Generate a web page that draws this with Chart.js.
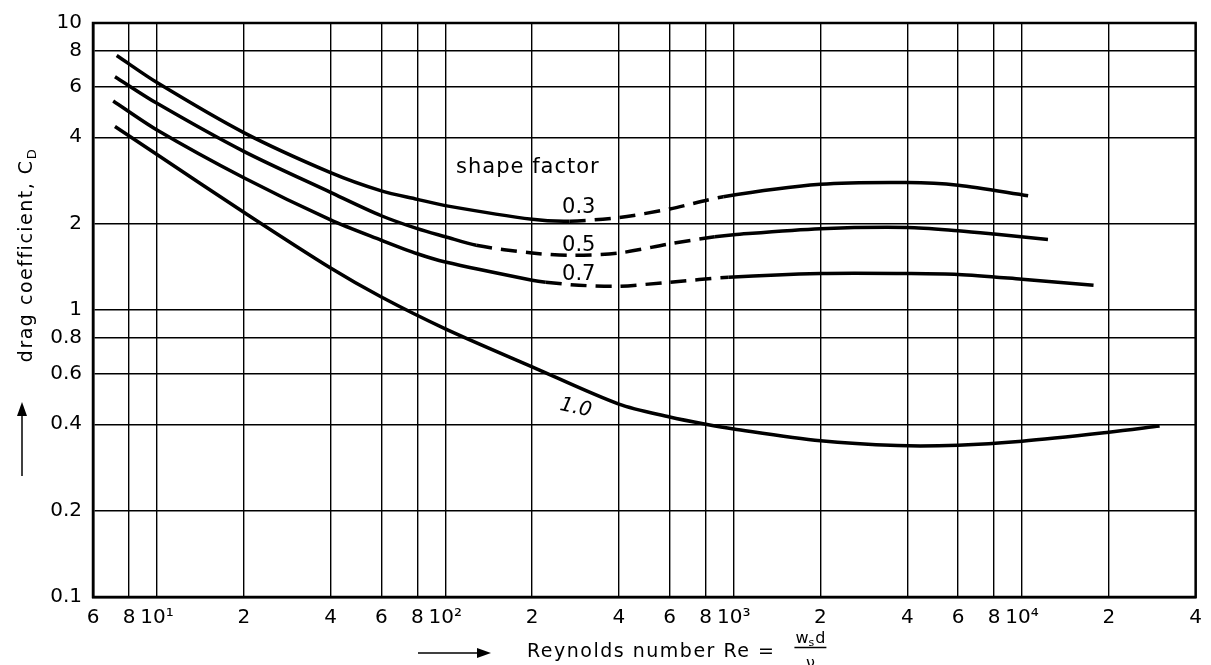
<!DOCTYPE html>
<html>
<head>
<meta charset="utf-8">
<title>Drag coefficient vs Reynolds number</title>
<script src="https://cdn.jsdelivr.net/npm/chart.js@4.4.1/dist/chart.umd.min.js"></script>
<style>
  html, body { margin: 0; padding: 0; background: #fff; }
  #wrap { width: 1211px; height: 665px; }
</style>
</head>
<body>
<div id="wrap"><canvas id="chart" width="1211" height="665"></canvas></div>
<script>
// readings: Reynolds number and drag coefficient per shape factor
const re03 = [7.25, 10, 20, 40, 60, 80, 100, 200, 270, 400, 600, 920, 2000, 4000, 6000, 10500];
const cd03 = [7.7, 6.2, 4.15, 3.01, 2.6, 2.43, 2.31, 2.07, 2.04, 2.1, 2.25, 2.48, 2.74, 2.78, 2.72, 2.5];

const re05 = [7.15, 10, 20, 40, 60, 80, 100, 128, 200, 270, 400, 600, 860, 1000, 2000, 4000, 6000, 8000, 12300];
const cd05 = [6.5, 5.25, 3.57, 2.57, 2.13, 1.92, 1.8, 1.68, 1.58, 1.55, 1.58, 1.7, 1.8, 1.83, 1.92, 1.94, 1.89, 1.84, 1.76];

const re07 = [7.05, 10, 20, 40, 60, 80, 100, 200, 223, 290, 400, 600, 960, 2000, 4000, 6000, 10000, 17700];
const cd07 = [5.35, 4.24, 2.89, 2.06, 1.75, 1.57, 1.47, 1.27, 1.25, 1.22, 1.21, 1.25, 1.3, 1.34, 1.34, 1.33, 1.28, 1.22];

const re10 = [7.15, 10, 20, 40, 60, 100, 200, 400, 600, 800, 1000, 2000, 3700, 6000, 10000, 20000, 30000];
const cd10 = [4.36, 3.48, 2.19, 1.4, 1.11, 0.86, 0.634, 0.47, 0.424, 0.4, 0.385, 0.35, 0.337, 0.338, 0.349, 0.375, 0.394];

// Re ranges where the curves are drawn dashed
const dash03 = [270, 920];
const dash05 = [128, 860];
const dash07 = [223, 960];

const xTicks = [6, 8, 10, 20, 40, 60, 80, 100, 200, 400, 600, 800, 1000, 2000, 4000, 6000, 8000, 10000, 20000, 40000];
const xLabels = ['6', '8', '10\u00B9', '2', '4', '6', '8', '10\u00B2', '2', '4', '6', '8', '10\u00B3', '2', '4', '6', '8', '10\u2074', '2', '4'];
const yTicks = [0.1, 0.2, 0.4, 0.6, 0.8, 1, 2, 4, 6, 8, 10];
const yLabels = ['0.1', '0.2', '0.4', '0.6', '0.8', '1', '2', '4', '6', '8', '10'];

const FONT = '"DejaVu Sans", "Liberation Sans", sans-serif';

// text placed inside the plot (in data units)
const notes = [
    { text: 'shape factor', re: 109, cd: 3.01, size: 21, spacing: 1 },
    { text: '0.3', re: 254, cd: 2.17, size: 21, spacing: 0 },
    { text: '0.5', re: 254, cd: 1.6, size: 21, spacing: 0 },
    { text: '0.7', re: 254, cd: 1.27, size: 21, spacing: 0 },
    { text: '1.0', re: 248, cd: 0.449, size: 20, spacing: 0, italic: true, angle: 12 }
];

const dashedIn = (range) => (ctx) =>
    (ctx.p0.parsed.x >= range[0] && ctx.p1.parsed.x <= range[1]) ? [16, 9] : undefined;

const makeSet = (label, re, cd, range) => ({
    label,
    data: re.map((x, i) => ({ x, y: cd[i] })),
    borderColor: '#000',
    borderWidth: 3.5,
    borderCapStyle: 'butt',
    pointRadius: 0,
    fill: false,
    tension: 0.3,
    segment: range ? { borderDash: dashedIn(range) } : {}
});

const arrow = (ctx, x1, y1, x2, y2) => {
    const ang = Math.atan2(y2 - y1, x2 - x1);
    ctx.beginPath();
    ctx.moveTo(x1, y1);
    ctx.lineTo(x2 - 10 * Math.cos(ang), y2 - 10 * Math.sin(ang));
    ctx.stroke();
    ctx.beginPath();
    ctx.moveTo(x2, y2);
    ctx.lineTo(x2 - 14 * Math.cos(ang) + 5 * Math.sin(ang), y2 - 14 * Math.sin(ang) - 5 * Math.cos(ang));
    ctx.lineTo(x2 - 14 * Math.cos(ang) - 5 * Math.sin(ang), y2 - 14 * Math.sin(ang) + 5 * Math.cos(ang));
    ctx.closePath();
    ctx.fill();
};

const decorations = {
    id: 'decorations',
    afterDraw(chart) {
        const { ctx, chartArea: a, scales: { x, y } } = chart;
        ctx.save();
        ctx.fillStyle = '#000';
        ctx.strokeStyle = '#000';

        // frame
        ctx.lineWidth = 2.5;
        ctx.strokeRect(a.left, a.top, a.right - a.left, a.bottom - a.top);

        // curve labels
        notes.forEach(n => {
            ctx.save();
            ctx.translate(x.getPixelForValue(n.re), y.getPixelForValue(n.cd));
            if (n.angle) ctx.rotate(n.angle * Math.PI / 180);
            ctx.font = (n.italic ? 'italic ' : '') + n.size + 'px ' + FONT;
            ctx.letterSpacing = n.spacing + 'px';
            ctx.textAlign = 'left';
            ctx.textBaseline = 'alphabetic';
            ctx.fillText(n.text, 0, 0);
            ctx.restore();
        });

        // y axis title
        ctx.save();
        ctx.translate(24, 255);
        ctx.rotate(-Math.PI / 2);
        ctx.letterSpacing = '1.5px';
        ctx.font = '19px ' + FONT;
        const yMain = 'drag coefficient, C';
        const w1 = ctx.measureText(yMain).width;
        ctx.font = '13px ' + FONT;
        const w2 = ctx.measureText('D').width;
        const start = -(w1 + w2) / 2;
        ctx.textBaseline = 'alphabetic';
        ctx.font = '19px ' + FONT;
        ctx.fillText(yMain, start, 8);
        ctx.font = '13px ' + FONT;
        ctx.fillText('D', start + w1, 12);
        ctx.restore();

        ctx.lineWidth = 1.5;
        arrow(ctx, 22, 476, 22, 402);

        // x axis title
        arrow(ctx, 418, 653, 491, 653);
        ctx.save();
        ctx.letterSpacing = '1.5px';
        ctx.font = '19px ' + FONT;
        ctx.textBaseline = 'alphabetic';
        const xMain = 'Reynolds number Re =';
        ctx.fillText(xMain, 527, 657);
        const fx = 527 + ctx.measureText(xMain).width + 20;
        ctx.letterSpacing = '0px';
        ctx.font = '16px ' + FONT;
        ctx.fillText('w', fx, 643);
        const ww = ctx.measureText('w').width;
        ctx.font = '11px ' + FONT;
        ctx.fillText('s', fx + ww, 646);
        const sw = ctx.measureText('s').width;
        ctx.font = '16px ' + FONT;
        ctx.fillText('d', fx + ww + sw + 1, 643);
        const dw = ctx.measureText('d').width;
        const fw = ww + sw + 1 + dw;
        ctx.lineWidth = 1.5;
        ctx.beginPath();
        ctx.moveTo(fx - 1, 647.5);
        ctx.lineTo(fx + fw + 1, 647.5);
        ctx.stroke();
        ctx.textAlign = 'center';
        ctx.fillText('\u03BD', fx + fw / 2, 668);
        ctx.restore();

        ctx.restore();
    }
};

new Chart(document.getElementById('chart'), {
    type: 'line',
    data: {
        datasets: [
            makeSet('0.3', re03, cd03, dash03),
            makeSet('0.5', re05, cd05, dash05),
            makeSet('0.7', re07, cd07, dash07),
            makeSet('1.0', re10, cd10, null)
        ]
    },
    options: {
        responsive: false,
        animation: false,
        devicePixelRatio: 1,
        layout: { padding: { top: 17, right: 13, left: 0, bottom: 0 } },
        plugins: {
            legend: { display: false },
            tooltip: { enabled: false }
        },
        scales: {
            x: {
                type: 'logarithmic',
                min: 6,
                max: 40000,
                afterBuildTicks: (scale) => { scale.ticks = xTicks.map(v => ({ value: v })); },
                afterFit: (scale) => { scale.height = 68; },
                grid: { color: '#000', lineWidth: 1.4, drawTicks: false },
                border: { color: '#000', width: 2.5 },
                ticks: {
                    autoSkip: false,
                    maxRotation: 0,
                    padding: 9,
                    color: '#000',
                    font: { family: FONT, size: 20 },
                    callback: (v) => xLabels[xTicks.indexOf(v)]
                }
            },
            y: {
                type: 'logarithmic',
                min: 0.1,
                max: 10,
                afterBuildTicks: (scale) => { scale.ticks = yTicks.map(v => ({ value: v })); },
                afterFit: (scale) => { scale.width = 93; },
                grid: { color: '#000', lineWidth: 1.4, drawTicks: false },
                border: { color: '#000', width: 2.5 },
                ticks: {
                    autoSkip: false,
                    padding: 11,
                    color: '#000',
                    font: { family: FONT, size: 20 },
                    callback: (v) => yLabels[yTicks.indexOf(v)]
                }
            }
        }
    },
    plugins: [decorations]
});
</script>
</body>
</html>
